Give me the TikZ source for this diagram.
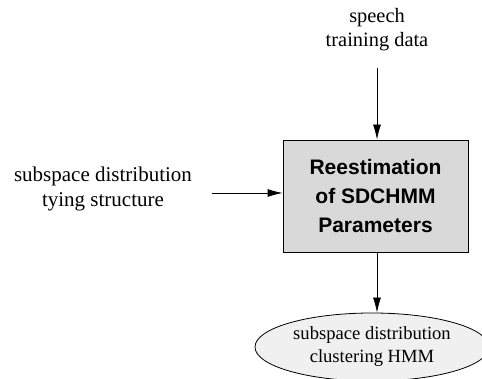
\documentclass[tikz,border=0pt]{standalone}
\usepackage{fontspec}
\setmainfont{Liberation Serif}
\newfontfamily\boxfont{Liberation Sans}
\usetikzlibrary{shapes.geometric,arrows.meta}
\begin{document}
\begin{tikzpicture}[x=1pt,y=1pt,>={Latex[length=15pt,width=8pt]},line width=0.8pt,
	label/.style={align=center,font=\fontsize{21}{25}\selectfont},
	mainbox/.style={draw,fill=black!15,minimum width=185pt,minimum height=112pt,align=center,font=\boxfont\bfseries\fontsize{21}{29}\selectfont},
	outell/.style={draw,ellipse,fill=black!6,minimum width=234pt,minimum height=68pt,inner sep=0pt,align=center,font=\fontsize{18.6}{23}\selectfont}]
		\useasboundingbox (0,0) rectangle (482,-379);
		\node[mainbox] (R) at (375.5,-196) {Reestimation\\of SDCHMM\\Parameters};
		\node[label,font=\fontsize{20.4}{24}\selectfont] (S) at (377,-30) {speech\\training data};
		\node[label] (T) at (103,-189) {subspace distribution\\tying structure};
		\node[outell] (H) at (372,-347) {subspace distribution\\clustering HMM};
		\coordinate (Stop) at (377,-68);
		\coordinate (Tend) at (212,-193);
		\draw[->] (Stop)--(Stop|-R.north);
		\draw[->] (Tend)--(Tend-|R.west);
		\draw[->] (Stop|-R.south)--(Stop|-H.north);
		\end{tikzpicture}
\end{document}
